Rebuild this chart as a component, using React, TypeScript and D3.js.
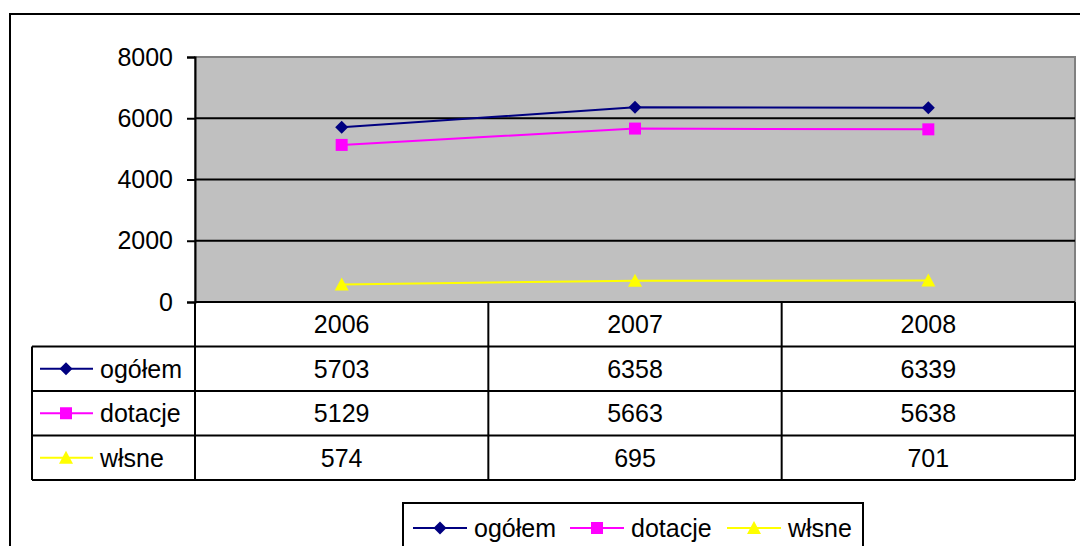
import { useEffect, useRef } from 'react';
import * as d3 from 'd3';

const years = ['2006', '2007', '2008'];
const seriesNames = ['ogółem', 'dotacje', 'włsne'];
const ogolem = [5703, 6358, 6339];
const dotacje = [5129, 5663, 5638];
const wlasne = [574, 695, 701];
const yTicks = [0, 2000, 4000, 6000, 8000];

const colors = ['#000080', '#FF00FF', '#FFFF00'];

// marker shapes like the spreadsheet ones: diamond, square, triangle
const markerPath = (i: number) => {
  const p = d3.path();
  if (i === 0) {
    p.moveTo(0, -6.5); p.lineTo(6.5, 0); p.lineTo(0, 6.5); p.lineTo(-6.5, 0);
  } else if (i === 1) {
    p.rect(-6, -6, 12, 12);
  } else {
    p.moveTo(0, -7); p.lineTo(7, 6); p.lineTo(-7, 6);
  }
  p.closePath();
  return p.toString();
};

export default function App() {
  const svgRef = useRef<SVGSVGElement>(null);

  useEffect(() => {
    if (!svgRef.current) return;
    const svg = d3.select(svgRef.current);
    svg.selectAll('*').remove();

    const font = 'Liberation Sans, Arial, sans-serif';
    const fs = 25;
    const plot = { left: 195, right: 1075, top: 57, bottom: 302 };
    const seriesData = [ogolem, dotacje, wlasne];

    const x = d3.scaleBand<string>().domain(years).range([plot.left, plot.right]);
    const y = d3.scaleLinear().domain([0, 8000]).range([plot.bottom, plot.top]);

    // outer chart frame
    svg.append('rect')
      .attr('x', 10).attr('y', 14)
      .attr('width', 1100).attr('height', 600)
      .attr('fill', '#fff').attr('stroke', '#000').attr('stroke-width', 2);

    // plot area
    svg.append('rect')
      .attr('x', plot.left).attr('y', plot.top)
      .attr('width', plot.right - plot.left).attr('height', plot.bottom - plot.top)
      .attr('fill', '#C0C0C0').attr('stroke', '#808080').attr('stroke-width', 2);

    svg.append('g')
      .selectAll('line')
      .data(yTicks.filter(d => d > 0 && d < 8000))
      .join('line')
      .attr('x1', plot.left).attr('x2', plot.right)
      .attr('y1', d => y(d)).attr('y2', d => y(d))
      .attr('stroke', '#000').attr('stroke-width', 2);

    // y axis
    const yAxis = svg.append('g')
      .attr('transform', `translate(${plot.left},0)`)
      .call(d3.axisLeft(y).tickValues(yTicks).tickSize(8).tickPadding(14).tickFormat(d3.format('d')));
    yAxis.select('.domain').attr('stroke', '#000').attr('stroke-width', 2);
    yAxis.selectAll('.tick line').attr('stroke', '#000').attr('stroke-width', 2);
    yAxis.selectAll('.tick text')
      .attr('font-family', font).attr('font-size', fs).attr('fill', '#000');

    // data table
    const rowScale = d3.scaleBand<string>()
      .domain(['header', ...seriesNames])
      .range([plot.bottom, 480]);
    const tableLeft = 32;
    const tg = svg.append('g');
    tg.selectAll('line.h')
      .data(seriesNames)
      .join('line')
      .attr('x1', tableLeft).attr('x2', plot.right)
      .attr('y1', d => rowScale(d)!).attr('y2', d => rowScale(d)!)
      .attr('stroke', '#000').attr('stroke-width', 2);
    tg.append('line')
      .attr('x1', tableLeft).attr('x2', plot.right)
      .attr('y1', 480).attr('y2', 480)
      .attr('stroke', '#000').attr('stroke-width', 2);
    tg.append('line')
      .attr('x1', plot.left).attr('x2', plot.right)
      .attr('y1', plot.bottom).attr('y2', plot.bottom)
      .attr('stroke', '#000').attr('stroke-width', 2);
    tg.append('line')
      .attr('x1', tableLeft).attr('x2', tableLeft)
      .attr('y1', rowScale(seriesNames[0])!).attr('y2', 480)
      .attr('stroke', '#000').attr('stroke-width', 2);
    tg.selectAll('line.v')
      .data([...years.map(d => x(d)!), plot.right])
      .join('line')
      .attr('x1', d => d).attr('x2', d => d)
      .attr('y1', plot.bottom).attr('y2', 480)
      .attr('stroke', '#000').attr('stroke-width', 2);

    const rowMid = (r: string) => rowScale(r)! + rowScale.bandwidth() / 2;

    tg.selectAll('text.year')
      .data(years)
      .join('text')
      .attr('x', d => x(d)! + x.bandwidth() / 2)
      .attr('y', rowMid('header'))
      .attr('dy', '0.35em')
      .attr('text-anchor', 'middle')
      .attr('font-family', font).attr('font-size', fs)
      .text(d => d);

    seriesNames.forEach((name, i) => {
      const row = rowMid(name);
      tg.selectAll(`text.val${i}`)
        .data(seriesData[i])
        .join('text')
        .attr('x', (_, j) => x(years[j])! + x.bandwidth() / 2)
        .attr('y', row)
        .attr('dy', '0.35em')
        .attr('text-anchor', 'middle')
        .attr('font-family', font).attr('font-size', fs)
        .text(d => d);

      // legend key in table
      tg.append('line')
        .attr('x1', 40).attr('x2', 93)
        .attr('y1', row).attr('y2', row)
        .attr('stroke', colors[i]).attr('stroke-width', 2);
      tg.append('path')
        .attr('d', markerPath(i))
        .attr('transform', `translate(66,${row})`)
        .attr('fill', colors[i]);
      tg.append('text')
        .attr('x', 100).attr('y', row).attr('dy', '0.35em')
        .attr('font-family', font).attr('font-size', fs)
        .text(name);
    });

    // series lines
    const line = d3.line<number>()
      .x((_, j) => x(years[j])! + x.bandwidth() / 2)
      .y(d => y(d));

    seriesData.forEach((vals, i) => {
      svg.append('path')
        .datum(vals)
        .attr('fill', 'none')
        .attr('stroke', colors[i])
        .attr('stroke-width', 2)
        .attr('d', line);
      svg.selectAll(`path.m${i}`)
        .data(vals)
        .join('path')
        .attr('class', `m${i}`)
        .attr('d', markerPath(i))
        .attr('transform', (d, j) => `translate(${x(years[j])! + x.bandwidth() / 2},${y(d)})`)
        .attr('fill', colors[i]);
    });

    // legend
    const legend = svg.append('g');
    legend.append('rect')
      .attr('x', 403).attr('y', 503)
      .attr('width', 460).attr('height', 80)
      .attr('fill', '#fff').attr('stroke', '#000').attr('stroke-width', 2);
    const legendX = [413, 570, 727];
    const ly = 528;
    seriesNames.forEach((name, i) => {
      const lx = legendX[i];
      legend.append('line')
        .attr('x1', lx).attr('x2', lx + 54)
        .attr('y1', ly).attr('y2', ly)
        .attr('stroke', colors[i]).attr('stroke-width', 2);
      legend.append('path')
        .attr('d', markerPath(i))
        .attr('transform', `translate(${lx + 27},${ly})`)
        .attr('fill', colors[i]);
      legend.append('text')
        .attr('x', lx + 61).attr('y', ly).attr('dy', '0.35em')
        .attr('font-family', font).attr('font-size', fs)
        .text(name);
    });
  }, []);

  return (
    <div style={{ position: 'fixed', left: 0, top: 0, width: 1080, height: 546, background: '#fff' }}>
      <svg ref={svgRef} width={1080} height={546} />
    </div>
  );
}
